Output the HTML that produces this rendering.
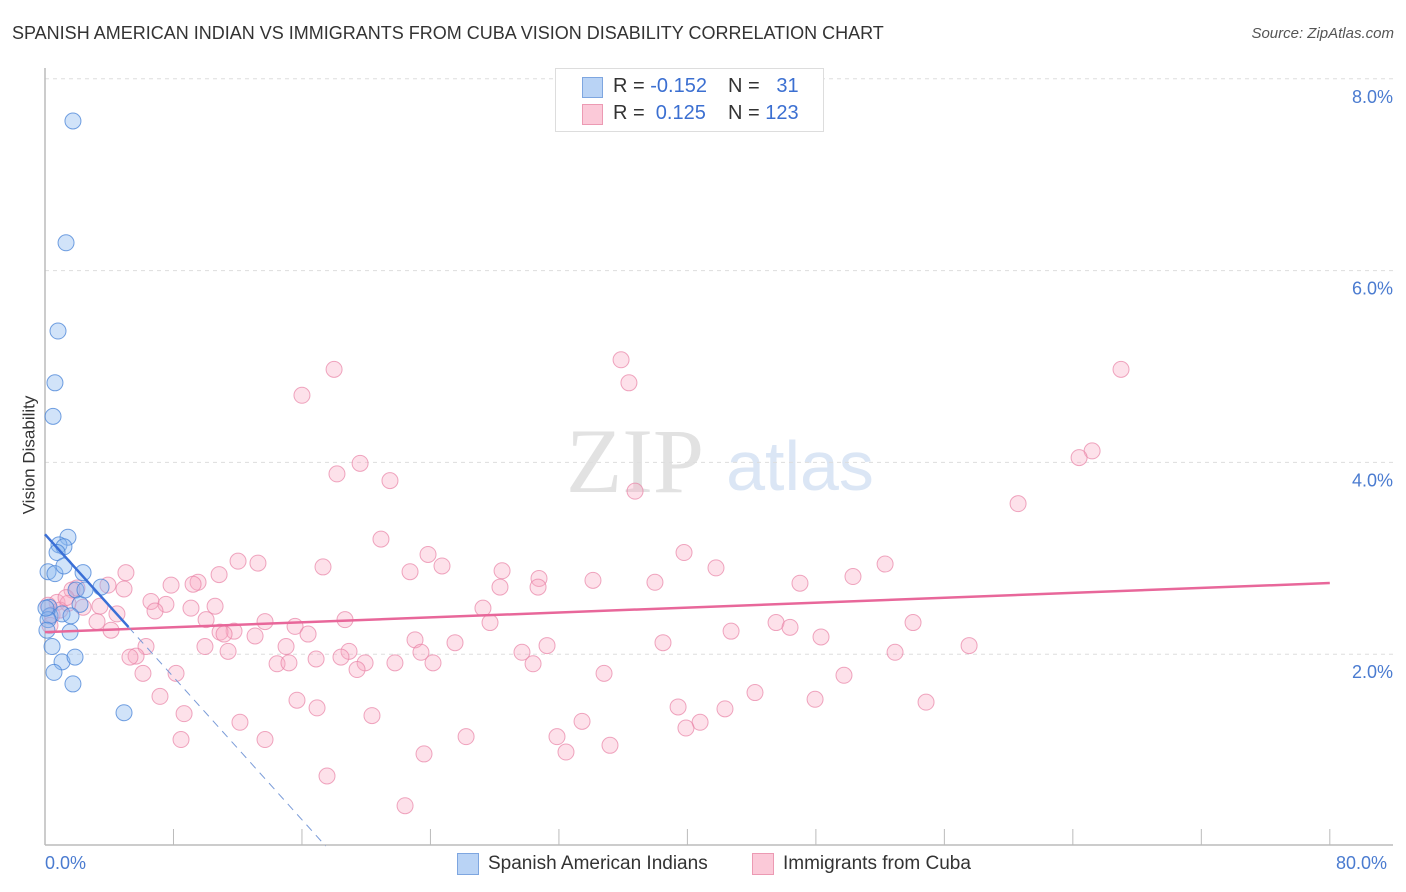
<!DOCTYPE html>
<html><head><meta charset="utf-8"><style>
body{margin:0;background:#fff;font-family:"Liberation Sans",sans-serif;}
#wrap{position:relative;width:1406px;height:892px;overflow:hidden;}
.t{position:absolute;white-space:nowrap;}
</style></head><body>
<div id="wrap">
<div class="t" style="left:12px;top:23px;font-size:18px;color:#333;">SPANISH AMERICAN INDIAN VS IMMIGRANTS FROM CUBA VISION DISABILITY CORRELATION CHART</div>
<div class="t" style="right:12px;top:25px;font-size:15px;color:#555;font-style:italic;">Source: ZipAtlas.com</div>
<svg id="plot" width="1406" height="892" style="position:absolute;left:0;top:0">
<text x="635" y="492" font-size="92" fill="#e2e2e2" font-family="Liberation Serif" text-anchor="middle">ZIP</text>
<text x="800" y="490" font-size="70" fill="#dbe6f5" font-family="Liberation Sans" text-anchor="middle">atlas</text>
<g id="grid"></g><g id="axes"></g><g id="pinkpts"></g><g id="bluepts"></g><g id="lines"></g>
</svg>
<div style="position:absolute;left:555px;top:68px;width:267px;height:62px;border:1px solid #ddd;background:#fff;font-size:20px;">
 <div style="position:absolute;left:26px;top:8px;width:19px;height:19px;background:#b9d3f5;border:1px solid #7ea6e0;"></div>
 <div class="t" style="left:57px;top:6px;color:#333;">R = <span style="color:#3b6fd1">-0.152</span></div>
 <div class="t" style="left:172px;top:6px;color:#333;">N = <span style="color:#3b6fd1">&nbsp;&nbsp;31</span></div>
 <div style="position:absolute;left:26px;top:35px;width:19px;height:19px;background:#fbc9d8;border:1px solid #ec9ab3;"></div>
 <div class="t" style="left:57px;top:33px;color:#333;">R = &nbsp;<span style="color:#3b6fd1">0.125</span></div>
 <div class="t" style="left:172px;top:33px;color:#333;">N = <span style="color:#3b6fd1">123</span></div>
</div>
<div class="t" style="left:-30px;top:445px;font-size:17px;color:#333;transform:rotate(-90deg);">Vision Disability</div>
<div class="t" style="left:45px;top:853px;font-size:18px;color:#4a7bd0;">0.0%</div>
<div class="t" style="left:1336px;top:853px;font-size:18px;color:#4a7bd0;">80.0%</div>
<div style="position:absolute;left:457px;top:853px;">
 <div style="position:absolute;left:0;top:0;width:20px;height:20px;background:#b9d3f5;border:1px solid #7ea6e0;"></div>
 <div class="t" style="left:31px;top:0;font-size:19px;color:#333;">Spanish American Indians</div></div>
<div style="position:absolute;left:752px;top:853px;">
 <div style="position:absolute;left:0;top:0;width:20px;height:20px;background:#fbc9d8;border:1px solid #ec9ab3;"></div>
 <div class="t" style="left:31px;top:0;font-size:19px;color:#333;">Immigrants from Cuba</div></div>
</div>
<script>
const yTicks=[2,4,6,8];
const xTicks=[0,8,16,24,32,40,48,56,64,72,80];
const blueX=[1.74,1.31,0.81,0.62,0.50,1.43,0.87,1.18,0.75,0.19,0.62,2.37,1.18,3.49,1.93,2.18,0.25,0.31,1.06,1.62,1.56,0.44,1.06,1.87,0.56,1.74,4.92,0.19,0.12,0.06,2.49];
const blueY=[7.56,6.29,5.37,4.83,4.48,3.22,3.14,3.12,3.06,2.86,2.84,2.85,2.92,2.70,2.67,2.52,2.49,2.40,2.42,2.40,2.23,2.08,1.92,1.97,1.81,1.69,1.39,2.36,2.25,2.48,2.67];
const pinkX=[35.87,36.36,18.00,16.00,67.00,65.20,64.39,19.62,18.18,21.48,36.74,60.59,20.92,23.85,39.79,24.72,28.46,17.31,22.73,30.76,41.78,52.31,50.31,47.01,37.98,34.12,28.33,30.70,13.26,12.02,10.84,9.53,9.22,7.85,5.04,4.92,3.92,1.99,1.68,0.75,1.43,3.42,2.37,6.60,7.53,6.85,9.09,10.59,4.48,3.24,4.11,10.03,11.77,13.70,15.57,16.38,18.68,27.27,27.71,42.72,45.52,46.39,48.32,54.05,10.90,13.08,11.15,6.29,5.67,5.29,9.96,11.40,15.01,18.93,23.04,23.41,25.53,31.26,29.70,30.39,38.48,52.93,57.54,16.88,18.43,21.79,19.93,24.16,14.45,15.19,19.43,6.10,8.16,34.81,49.75,44.21,7.16,15.69,16.94,20.36,47.95,54.86,39.42,42.34,8.66,12.14,33.44,40.79,39.91,8.47,13.70,26.22,31.88,32.44,35.18,23.60,17.56,22.42,0.19,0.44,0.31,0.93,1.31];
const pinkY=[5.07,4.83,4.97,4.70,4.97,4.12,4.05,3.99,3.88,3.81,3.70,3.57,3.20,3.04,3.06,2.92,2.87,2.91,2.86,2.79,2.90,2.94,2.81,2.74,2.75,2.77,2.70,2.70,2.95,2.97,2.83,2.75,2.73,2.72,2.85,2.68,2.72,2.69,2.67,2.54,2.53,2.50,2.49,2.55,2.52,2.45,2.48,2.50,2.42,2.34,2.25,2.36,2.24,2.34,2.29,2.21,2.36,2.48,2.33,2.24,2.33,2.28,2.18,2.33,2.23,2.19,2.21,2.08,1.98,1.97,2.08,2.03,2.08,2.03,2.15,2.02,2.12,2.09,2.02,1.90,2.12,2.02,2.09,1.95,1.97,1.91,1.91,1.91,1.90,1.91,1.84,1.80,1.80,1.80,1.78,1.60,1.56,1.52,1.44,1.36,1.53,1.50,1.45,1.43,1.38,1.29,1.30,1.29,1.23,1.11,1.11,1.14,1.14,0.98,1.05,0.96,0.73,0.42,2.51,2.41,2.30,2.46,2.59];
const blueLine=[3.25,-0.186];
const pinkLine=[2.23,0.0064];
const NS='http://www.w3.org/2000/svg';
const xs=v=>45+v*16.06, ys=v=>846-v*95.9;
function mk(tag,attrs,parent){const e=document.createElementNS(NS,tag);for(const k in attrs)e.setAttribute(k,attrs[k]);document.getElementById(parent).appendChild(e);return e;}
yTicks.forEach(t=>{
 const l=mk('line',{x1:45,x2:1393,y1:ys(t),y2:ys(t),stroke:'#ddd','stroke-dasharray':'4,4'},'grid');
 
 
 const tx=mk('text',{x:1393,y:ys(t)+24,'text-anchor':'end','font-size':18,fill:'#4a7bd0','font-family':'Liberation Sans'},'grid');
 tx.textContent=t.toFixed(1)+'%';
 
 
});
const ax=mk('line',{x1:45,x2:1393,y1:845,y2:845,stroke:'#bbb','stroke-width':1.5},'axes');


const ay=mk('line',{x1:45,x2:45,y1:68,y2:845,stroke:'#bbb','stroke-width':1.5},'axes');


xTicks.forEach(t=>{
 const l=mk('line',{x1:xs(t),x2:xs(t),y1:829,y2:845,stroke:'#bbb'},'axes');
 
 
});
pinkX.forEach((x,i)=>{
 const c=mk('circle',{cx:xs(x),cy:ys(pinkY[i]),r:8,fill:'rgba(248,170,195,0.35)',stroke:'rgba(232,130,165,0.7)','stroke-width':1},'pinkpts');
 
 
});
blueX.forEach((x,i)=>{
 const c=mk('circle',{cx:xs(x),cy:ys(blueY[i]),r:8,fill:'rgba(140,185,240,0.4)',stroke:'rgba(70,130,215,0.75)','stroke-width':1},'bluepts');
 
 
});
const pl=mk('line',{x1:xs(0),y1:ys(pinkLine[0]),x2:xs(80),y2:ys(pinkLine[0]+pinkLine[1]*80),stroke:'#e8679a','stroke-width':2.5},'lines');


const bEnd=5.2, bZero=-blueLine[0]/blueLine[1];
const bl=mk('line',{x1:xs(0),y1:ys(blueLine[0]),x2:xs(bEnd),y2:ys(blueLine[0]+blueLine[1]*bEnd),stroke:'#3a6fd6','stroke-width':2.5},'lines');


const bd=mk('line',{x1:xs(bEnd),y1:ys(blueLine[0]+blueLine[1]*bEnd),x2:xs(bZero),y2:ys(0),stroke:'#7a9bd8','stroke-width':1,'stroke-dasharray':'8,6'},'lines');


</script>
</body></html>
